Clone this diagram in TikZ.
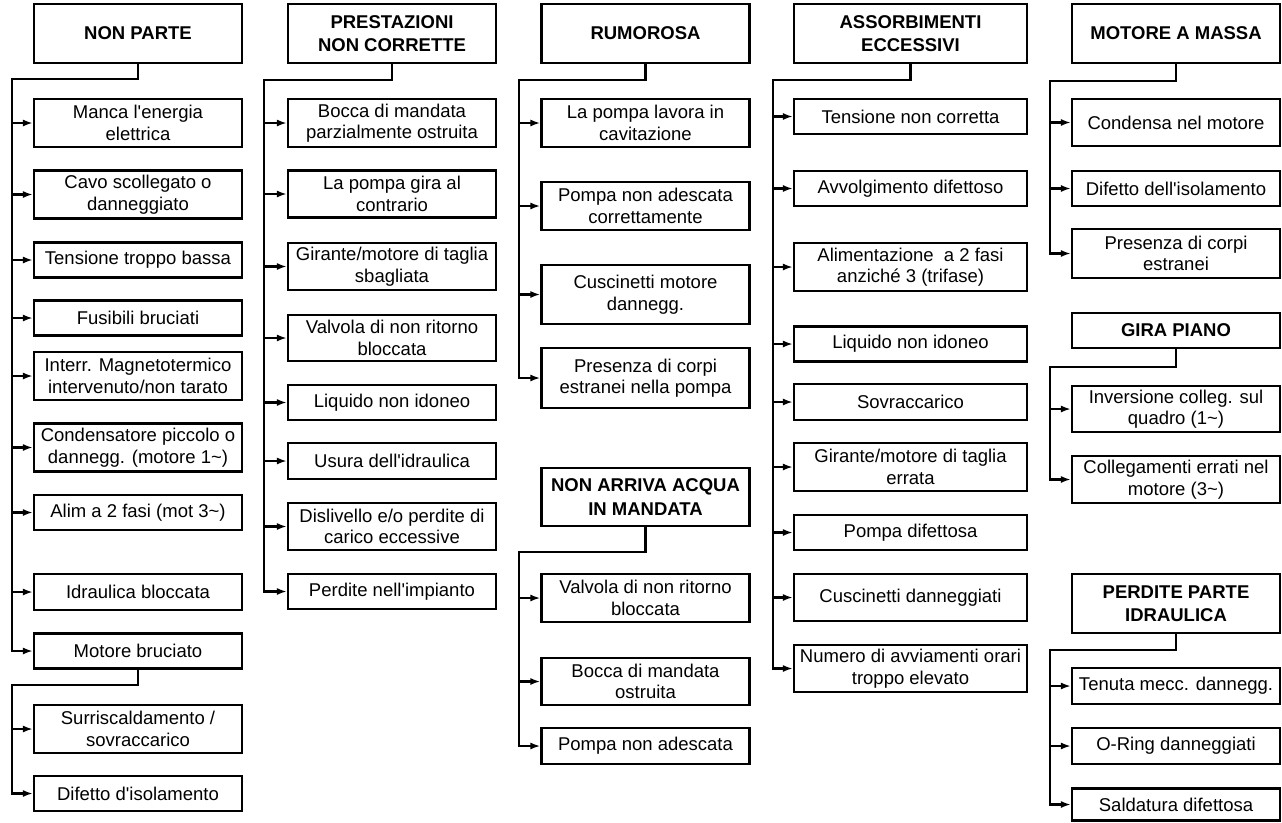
\documentclass[tikz,border=0pt]{standalone}
\usepackage{fontspec}
\setmainfont{Liberation Sans}[Ligatures=TeXOff]
\usepackage{xcolor}
\definecolor{gsink}{HTML}{000000}
\usepackage{tikz}
\usetikzlibrary{arrows.meta,calc}
\newcommand{\gsfont}{\fontsize{18.5}{21.5}\selectfont}
\newcommand{\gshfont}{\fontsize{18.5}{23.5}\selectfont\bfseries}
\tikzset{
  gsbox/.style  ={rectangle, draw=gsink, fill=white, line width=2.1pt,
                  minimum width=208pt, inner sep=1pt, align=center,
                  font=\gsfont, text=gsink},
  gswide/.style ={gsbox, minimum width=233pt},
  gshead/.style ={gsbox, font=\gshfont},
  gsarrow/.style={-{Latex[length=10pt,width=7pt]}, line width=2.1pt, draw=gsink},
}

\begin{document}
\begin{tikzpicture}[x=1pt, y=-1pt]
  \useasboundingbox (0,0) rectangle (1282,822);

  % NON PARTE
  \node[gshead, minimum height=59pt] (t1) at (138,33.5) {NON PARTE};
  \node[gsbox, minimum height=48pt] (m1) at (138,123) {Manca l'energia\\elettrica};
  \node[gsbox, minimum height=48pt] (m2) at (138,194.5) {Cavo scollegato o\\danneggiato};
  \node[gsbox, minimum height=35pt] (m3) at (138,260) {Tensione troppo bassa};
  \node[gsbox, minimum height=35pt] (m4) at (138,318) {Fusibili bruciati};
  \node[gsbox, minimum height=48pt] (m5) at (138,376) {Interr. Magnetotermico\\intervenuto/non tarato};
  \node[gsbox, minimum height=48pt] (m6) at (138,447.5) {Condensatore piccolo o\\dannegg. (motore 1\textasciitilde)};
  \node[gsbox, minimum height=35pt] (m7) at (138,512.5) {Alim a 2 fasi (mot 3\textasciitilde)};
  \node[gsbox, minimum height=36pt] (m8) at (138,592) {Idraulica bloccata};
  \node[gsbox, minimum height=35pt] (m9) at (138,651) {Motore bruciato};
  \node[gsbox, minimum height=48pt] (m10) at (138,729) {Surriscaldamento /\\sovraccarico};
  \node[gsbox, minimum height=35pt] (m11) at (138,793.5) {Difetto d'isolamento};
  \coordinate (b1) at (12,79);
  \coordinate (b1b) at (12,685);
  \draw[gsarrow] (t1.south) |- (b1) |- (m9.west);
  \foreach \n in {m1,m2,m3,m4,m5,m6,m7,m8}
    \draw[gsarrow] (b1 |- \n.west) -- (\n.west);
  \draw[gsarrow] (m9.south) |- (b1b) |- (m11.west);
  \draw[gsarrow] (b1b |- m10.west) -- (m10.west);

  % PRESTAZIONI NON CORRETTE
  \node[gshead, minimum height=59pt] (t2) at (392,33.5) {PRESTAZIONI\\NON CORRETTE};
  \node[gsbox, minimum height=48pt] (p1) at (392,123) {Bocca di mandata\\parzialmente ostruita};
  \node[gsbox, minimum height=47pt] (p2) at (392,194) {La pompa gira al\\contrario};
  \node[gsbox, minimum height=47pt] (p3) at (392,266.5) {Girante/motore di taglia\\sbagliata};
  \node[gsbox, minimum height=46pt] (p4) at (392,338) {Valvola di non ritorno\\bloccata};
  \node[gsbox, minimum height=35pt] (p5) at (392,402.5) {Liquido non idoneo};
  \node[gsbox, minimum height=36pt] (p6) at (392,461) {Usura dell'idraulica};
  \node[gsbox, minimum height=47pt] (p7) at (392,526.5) {Dislivello e/o perdite di\\carico eccessive};
  \node[gsbox, minimum height=35pt] (p8) at (392,591.5) {Perdite nell'impianto};
  \coordinate (b2) at (264,80);
  \draw[gsarrow] (t2.south) |- (b2) |- (p8.west);
  \foreach \n in {p1,p2,p3,p4,p5,p6,p7}
    \draw[gsarrow] (b2 |- \n.west) -- (\n.west);

  % RUMOROSA
  \node[gshead, minimum height=59pt] (t3) at (645.5,33.5) {RUMOROSA};
  \node[gsbox, minimum height=48pt] (r1) at (645.5,123) {La pompa lavora in\\cavitazione};
  \node[gsbox, minimum height=48pt] (r2) at (645.5,206) {Pompa non adescata\\correttamente};
  \node[gsbox, minimum height=59pt] (r3) at (645.5,294.5) {Cuscinetti motore\\dannegg.};
  \node[gsbox, minimum height=60pt] (r4) at (645.5,378) {Presenza di corpi\\estranei nella pompa};
  \coordinate (b3) at (519,80);
  \draw[gsarrow] (t3.south) |- (b3) |- (r4.west);
  \foreach \n in {r1,r2,r3}
    \draw[gsarrow] (b3 |- \n.west) -- (\n.west);

  % NON ARRIVA ACQUA IN MANDATA
  \node[gshead, minimum height=58pt] (t3b) at (645.5,497) {NON ARRIVA ACQUA\\IN MANDATA};
  \node[gsbox, minimum height=48pt] (a1) at (645.5,598) {Valvola di non ritorno\\bloccata};
  \node[gsbox, minimum height=47pt] (a2) at (645.5,681.5) {Bocca di mandata\\ostruita};
  \node[gsbox, minimum height=36pt] (a3) at (645.5,746) {Pompa non adescata};
  \coordinate (b3b) at (519,552);
  \draw[gsarrow] (t3b.south) |- (b3b) |- (a3.west);
  \foreach \n in {a1,a2}
    \draw[gsarrow] (b3b |- \n.west) -- (\n.west);

  % ASSORBIMENTI ECCESSIVI
  \node[gswide, font=\gshfont, minimum height=59pt] (t4) at (910.5,33.5) {ASSORBIMENTI\\ECCESSIVI};
  \node[gswide, minimum height=35pt] (s1) at (910.5,116.5) {Tensione non corretta};
  \node[gswide, minimum height=35pt] (s2) at (910.5,188.5) {Avvolgimento difettoso};
  \node[gswide, minimum height=48pt] (s3) at (910.5,267) {Alimentazione\ \ a 2 fasi\\anziché 3 (trifase)};
  \node[gswide, minimum height=35pt] (s4) at (910.5,344) {Liquido non idoneo};
  \node[gswide, minimum height=36pt] (s5) at (910.5,402) {Sovraccarico};
  \node[gswide, minimum height=48pt] (s6) at (910.5,467) {Girante/motore di taglia\\errata};
  \node[gswide, minimum height=35pt] (s7) at (910.5,532.5) {Pompa difettosa};
  \node[gswide, minimum height=47pt] (s8) at (910.5,597.5) {Cuscinetti danneggiati};
  \node[gswide, minimum height=47pt] (s9) at (910.5,668.5) {Numero di avviamenti orari\\troppo elevato};
  \coordinate (b4) at (773,80);
  \draw[gsarrow] (t4.south) |- (b4) |- (s9.west);
  \foreach \n in {s1,s2,s3,s4,s5,s6,s7,s8}
    \draw[gsarrow] (b4 |- \n.west) -- (\n.west);

  % MOTORE A MASSA
  \node[gshead, minimum height=59pt] (t5) at (1176,33.5) {MOTORE A MASSA};
  \node[gsbox, minimum height=47pt] (g1) at (1176,122.5) {Condensa nel motore};
  \node[gsbox, minimum height=35pt] (g2) at (1176,188.5) {Difetto dell'isolamento};
  \node[gsbox, minimum height=49pt] (g3) at (1176,253.5) {Presenza di corpi\\estranei};
  \coordinate (b5) at (1050,81);
  \draw[gsarrow] (t5.south) |- (b5) |- (g3.west);
  \foreach \n in {g1,g2}
    \draw[gsarrow] (b5 |- \n.west) -- (\n.west);

  % GIRA PIANO
  \node[gshead, minimum height=35pt] (t6) at (1176,330.5) {GIRA PIANO};
  \node[gsbox, minimum height=46pt] (v1) at (1176,409) {Inversione colleg. sul\\quadro (1\textasciitilde)};
  \node[gsbox, minimum height=47pt] (v2) at (1176,479.5) {Collegamenti errati nel\\motore (3\textasciitilde)};
  \coordinate (b6) at (1050,367);
  \draw[gsarrow] (t6.south) |- (b6) |- (v2.west);
  \draw[gsarrow] (b6 |- v1.west) -- (v1.west);

  % PERDITE PARTE IDRAULICA
  \node[gshead, minimum height=59pt] (t7) at (1176,603.5) {PERDITE PARTE\\IDRAULICA};
  \node[gsbox, minimum height=36pt] (d1) at (1176,686) {Tenuta mecc. dannegg.};
  \node[gsbox, minimum height=36pt] (d2) at (1176,746) {O-Ring danneggiati};
  \node[gsbox, minimum height=32pt] (d3) at (1176,804.5) {Saldatura difettosa};
  \coordinate (b7) at (1050,650);
  \draw[gsarrow] (t7.south) |- (b7) |- (d3.west);
  \foreach \n in {d1,d2}
    \draw[gsarrow] (b7 |- \n.west) -- (\n.west);
\end{tikzpicture}
\end{document}
